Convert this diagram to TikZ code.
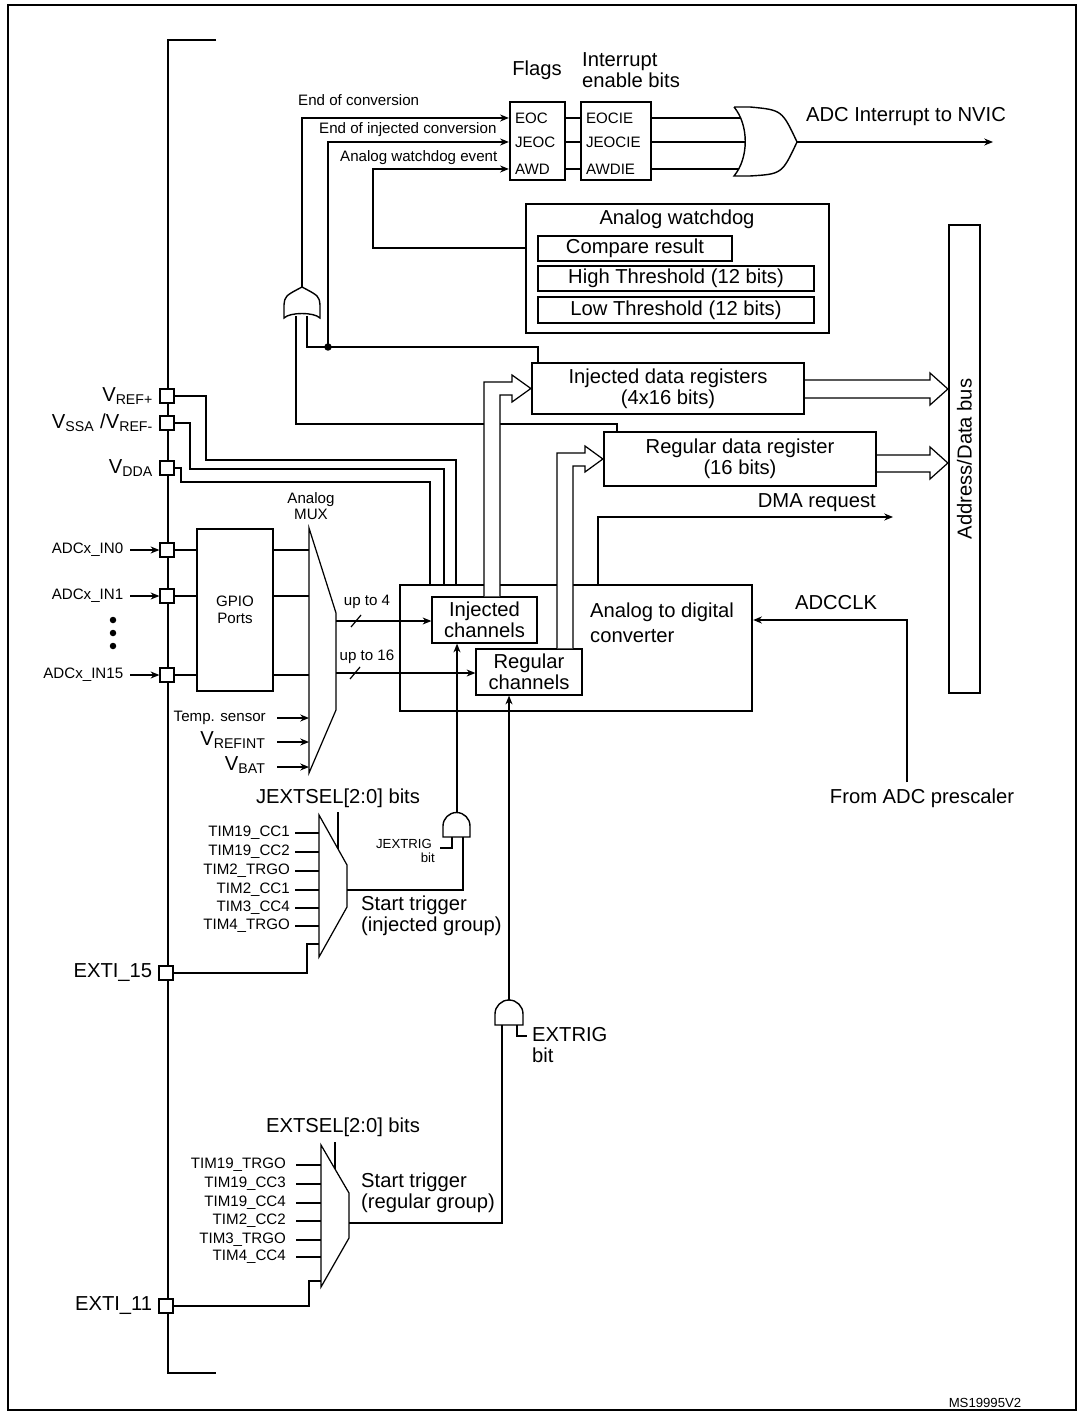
\documentclass[tikz,border=0pt]{standalone}
\usepackage{fontspec}
\setmainfont{Liberation Sans}
\usetikzlibrary{fit,arrows.meta}

\tikzset{
  big/.style={font=\fontsize{11.5}{12}\selectfont},
  small/.style={font=\fontsize{8.6}{9.5}\selectfont},
  tiny/.style={font=\fontsize{7.5}{8}\selectfont},
  box/.style={draw,line width=1.3pt,inner sep=0pt},
  thinbox/.style={draw,line width=0.7pt,inner sep=0pt,fill=white},
  pin/.style={draw,line width=0.7pt,minimum size=0.28cm,inner sep=0pt,fill=white},
  wire/.style={line width=0.7pt},
  arr/.style={wire,-{Stealth[length=5pt,width=4pt]}},
  gate/.style={line width=0.8pt,fill=white}
}

\begin{document}
\begin{tikzpicture}[x=0.02cm,y=-0.02cm]
  \useasboundingbox (0,0) rectangle (1083,1415);
  \draw[line width=1.2pt] (8,5) rectangle (1076,1410);

  % device border
  \draw[line width=1.6pt] (216,40) -- (168,40) -- (168,1373) -- (216,1373);

  % pins
  \node[pin] (vrefp) at (167,396) {};
  \node[pin] (vssa) at (167,423) {};
  \node[pin] (vdda) at (167,468) {};
  \node[pin] (in0) at (167,550) {};
  \node[pin] (in1) at (167,596) {};
  \node[pin] (in15) at (167,675) {};
  \node[pin] (exti15) at (166,973) {};
  \node[pin] (exti11) at (166,1306) {};
  \node[big,left] at (vrefp.west) {V\textsubscript{REF+}};
  \node[big,left] at (vssa.west) {V\textsubscript{SSA} /V\textsubscript{REF-}};
  \node[big,left] at (vdda.west) {V\textsubscript{DDA}};
  \node[big,left] at (exti15.west) {EXTI\_15};
  \node[big,left] at (exti11.west) {EXTI\_11};
  \foreach \p/\t in {in0/ADCx\_IN0, in1/ADCx\_IN1, in15/ADCx\_IN15} {
    \draw[arr] ([xshift=-0.58cm]\p.west) -- (\p.west);
    \node[small,left] at ([xshift=-0.6cm]\p.west) {\t};
  }
  \foreach \y in {620,633,646}
    \fill (113,\y) circle[radius=0.065cm];

  % GPIO and analog mux
  \node[box,fit={(197,529) (273,691)}] (gpio) {};
  \node[small,align=center] at (gpio) {GPIO\\Ports};
  \coordinate (muxL) at (309,0);
  \draw[wire] (309,528) -- (336,613) -- (336,710) -- (309,773) -- cycle;
  \node[small,align=center] at (311,506) {Analog\\MUX};
  \foreach \p in {in0,in1,in15} {
    \draw[wire] (\p.east) -- (gpio.west |- \p.east);
    \draw[wire] (gpio.east |- \p.east) -- (muxL |- \p.east);
  }
  \draw[arr] (277,718) -- (muxL |- 0,718);
  \draw[arr] (277,742) -- (muxL |- 0,742);
  \draw[arr] (277,767) -- (muxL |- 0,767);
  \node[small,left] at (272,718) {Temp. sensor};
  \node[big,left] at (272,740) {V\textsubscript{REFINT}};
  \node[big,left] at (272,765) {V\textsubscript{BAT}};

  % converter
  \node[box,fit={(400,585) (752,711)}] (adc) {};
  \node[big,align=left,anchor=west,font=\fontsize{11.5}{14}\selectfont] at (584,623) {Analog to digital\\converter};
  \node[thinbox,fit={(432,597) (537,643)}] (inj) {};
  \node[big,align=center,font=\fontsize{11.5}{10}\selectfont] at (inj) {Injected\\channels};
  \node[thinbox,fit={(476,649) (582,695)}] (reg) {};
  \node[big,align=center,font=\fontsize{11.5}{10}\selectfont] at (reg) {Regular\\channels};
  \draw[arr] (336,621) -- (inj.west |- 0,621);
  \draw[arr] (336,673) -- (reg.west |- 0,673);
  \draw[wire] (351,627) -- (361,615);
  \draw[wire] (350,679) -- (360,667);
  \node[small] at (367,602) {up to 4};
  \node[small] at (367,657) {up to 16};

  % supplies
  \draw[wire] (vrefp.east) -| (206,460) -| (adc.north -| 456,0);
  \draw[wire] (vssa.east) -| (190,469) -| (adc.north -| 444,0);
  \draw[wire] (vdda.east) -| (181,482) -| (adc.north -| 430,0);

  % data registers and bus
  \node[box,fit={(532,363) (804,414)}] (idr) {};
  \node[big,align=center,font=\fontsize{11.5}{10.5}\selectfont] at (idr) {Injected data registers\\(4x16 bits)};
  \node[box,fit={(604,432) (876,486)}] (rdr) {};
  \node[big,align=center,font=\fontsize{11.5}{10.5}\selectfont] at (rdr) {Regular data register\\(16 bits)};
  \node[box,fit={(949,225) (980,693)}] (bus) {};
  \node[big,rotate=90] at (bus) {Address/Data bus};

  % status lines and interrupt gate
  \coordinate (dot) at (328,347);
  \coordinate (orA) at (302,287);
  \draw[wire] (296,316) |- (617,424) -- (rdr.north -| 617,0);
  \draw[wire] (307,316) |- (538,347) -- (idr.north -| 538,0);
  \fill (dot) circle[radius=0.075cm];
  \draw[gate] (284,318) .. controls (290,312) and (314,312) .. (320,318) -- (320,305)
    .. controls (319,296) .. (orA) .. controls (285,296) .. (284,305) -- cycle;

  % hollow arrows
  \draw[wire,fill=white] (inj.north -| 484,0) -- (484,382) -- (512,382) -- (512,375)
    -- (idr.west) -- (512,402) -- (512,395) -- (500,395) -- (inj.north -| 500,0);
  \draw[wire,fill=white] (reg.north -| 557,0) -- (557,453) -- (585,453) -- (585,446)
    -- (rdr.west) -- (585,472) -- (585,466) -- (573,466) -- (reg.north -| 573,0);
  \draw[wire,fill=white] (idr.east |- 0,380) -- (930,380) -- (930,373) -- (bus.west |- 0,389)
    -- (930,405) -- (930,398) -- (idr.east |- 0,398);
  \draw[wire,fill=white] (rdr.east |- 0,455) -- (930,455) -- (930,447) -- (bus.west |- 0,463)
    -- (930,479) -- (930,472) -- (rdr.east |- 0,472);

  % flags
  \node[box,fit={(510,102) (565,180)}] (flags) {};
  \node[box,fit={(581,102) (651,180)}] (ien) {};
  \node[big] at (537,70) {Flags};
  \node[big,align=left,anchor=west,font=\fontsize{11.5}{10}\selectfont] at (576,70) {Interrupt\\enable bits};
  \foreach \y/\f/\e/\b in {118/EOC/EOCIE/742, 142/JEOC/JEOCIE/747, 169/AWD/AWDIE/742} {
    \node[small,anchor=west] at (flags.west |- 0,\y) {\f};
    \node[small,anchor=west] at (ien.west |- 0,\y) {\e};
    \draw[wire] (flags.east |- 0,\y) -- (ien.west |- 0,\y);
    \draw[wire] (ien.east |- 0,\y) -- (\b,\y);
  }
  \coordinate (orB) at (797,142);
  \draw[gate] (734,107) -- (750,107) .. controls (782,110) .. (orB)
    .. controls (782,174) .. (750,176) -- (734,176)
    .. controls (749,158) and (749,125) .. (734,107);
  \draw[arr] (orB) -- (993,142);
  \node[big] at (906,117) {ADC Interrupt to NVIC};

  \draw[arr] (orA) |- (flags.west |- 0,118);
  \draw[arr] (dot) |- (flags.west |- 0,142);
  \node[small,anchor=west] at (292,100) {End of conversion};
  \node[small,anchor=west] at (313,130) {End of injected conversion};
  \node[small,anchor=west] at (334,158) {Analog watchdog event};

  % analog watchdog
  \node[box,fit={(526,204) (829,333)}] (awdg) {};
  \node[big] at (677,219) {Analog watchdog};
  \node[thinbox,fit={(538,236) (732,261)}] (cmp) {};
  \node[big] at (cmp) {Compare result};
  \node[thinbox,fit={(538,266) (814,291)}] (hth) {};
  \node[big] at (hth) {High Threshold (12 bits)};
  \node[thinbox,fit={(538,297) (814,323)}] (lth) {};
  \node[big] at (lth) {Low Threshold (12 bits)};
  \draw[arr] (awdg.west |- 0,248) -| (373,169) -- (flags.west |- 0,169);

  % DMA and clock
  \draw[arr] (adc.north -| 598,0) |- (893,517);
  \node[big,anchor=east] at (882,503) {DMA request};
  \node[big] (presc) at (922,798) {From ADC prescaler};
  \draw[arr] (presc.north -| 907,0) |- (adc.east |- 0,620);
  \node[big] at (836,603) {ADCCLK};

  % injected trigger
  \draw[wire] (319,815) -- (347,865) -- (347,907) -- (319,957) -- cycle;
  \draw[wire] (338,812) -- (338,849);
  \node[big] at (338,798) {JEXTSEL[2:0] bits};
  \foreach \y/\t in {833/TIM19\_CC1, 852/TIM19\_CC2, 871/TIM2\_TRGO, 890/TIM2\_CC1, 908/TIM3\_CC4, 926/TIM4\_TRGO} {
    \draw[wire] (295,\y) -- (319,\y);
    \node[small,anchor=east] at (296,\y) {\t};
  }
  \draw[wire] (exti15.east) -| (307,944) -- (319,944);
  \node[big,align=left,anchor=west,font=\fontsize{11.5}{12}\selectfont] at (355,916) {Start trigger\\(injected group)};
  \coordinate (andJ) at (457,812);
  \draw[gate] (443,837) -- (443,826) arc[start angle=180,end angle=0,radius=0.27cm] -- (470,837) -- cycle;
  \draw[arr] (andJ) -- (inj.south -| andJ);
  \draw[wire] (347,890) -| (463,837);
  \draw[wire] (452,837) |- (440,848);
  \node[tiny,anchor=east] at (438,844) {JEXTRIG};
  \node[tiny,anchor=east] at (441,858) {bit};

  % regular trigger
  \draw[wire] (321,1145) -- (349,1193) -- (349,1238) -- (321,1287) -- cycle;
  \draw[wire] (335,1142) -- (335,1169);
  \node[big] at (343,1127) {EXTSEL[2:0] bits};
  \foreach \y/\t in {1165/TIM19\_TRGO, 1184/TIM19\_CC3, 1203/TIM19\_CC4, 1221/TIM2\_CC2, 1240/TIM3\_TRGO, 1257/TIM4\_CC4} {
    \draw[wire] (296,\y) -- (321,\y);
    \node[small,anchor=east] at (292,\y) {\t};
  }
  \draw[wire] (exti11.east) -| (309,1281) -- (321,1281);
  \node[big,align=left,anchor=west,font=\fontsize{11.5}{12}\selectfont] at (355,1193) {Start trigger\\(regular group)};
  \coordinate (andR) at (509,1000);
  \draw[gate] (495,1025) -- (495,1014) arc[start angle=180,end angle=0,radius=0.28cm] -- (523,1025) -- cycle;
  \draw[arr] (andR) -- (reg.south -| andR);
  \draw[wire] (349,1223) -| (502,1025);
  \draw[wire] (517,1025) |- (527,1036);
  \node[big,anchor=west] at (526,1035) {EXTRIG};
  \node[big,anchor=west] at (526,1055) {bit};

  \node[tiny] at (985,1403) {MS19995V2};
\end{tikzpicture}
\end{document}
